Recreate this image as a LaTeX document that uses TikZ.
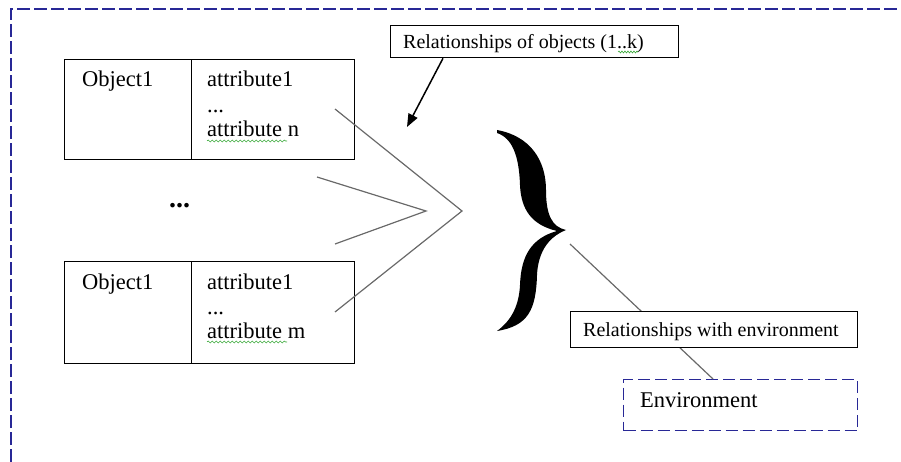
\documentclass[tikz,border=0pt]{standalone}
\usepackage{fontspec}
\setmainfont{Liberation Serif}
\usetikzlibrary{arrows.meta,decorations.pathmorphing,calc}

\definecolor{framecol}{RGB}{40,40,150}
\definecolor{linkcol}{RGB}{105,105,105}
\definecolor{spellcol}{RGB}{60,170,60}

\tikzset{
  box/.style={draw=black, line width=1.3pt, inner sep=0pt, anchor=north west},
  labelbox/.style={box, fill=white},
  envframe/.style={draw=framecol, line width=1.3pt, dash pattern=on 12pt off 5pt, inner sep=0pt, anchor=north west},
  outerframe/.style={draw=framecol, line width=1.3pt, dash pattern=on 13pt off 4pt},
  bigtxt/.style={anchor=base west, inner sep=0pt, font=\fontsize{22.5}{25}\selectfont},
  smalltxt/.style={anchor=base west, inner sep=0pt, font=\fontsize{20}{24}\selectfont},
  link/.style={draw=linkcol, line width=1.2pt},
  pointer/.style={draw=black, line width=1.5pt, -{Triangle[length=13pt,width=10pt]}},
  squiggle/.style={draw=spellcol, line width=0.6pt, decorate,
                   decoration={snake, amplitude=1pt, segment length=4pt}}
}

\begin{document}
\begin{tikzpicture}[x=1pt,y=-1pt]
\useasboundingbox (0,0) rectangle (901,462);

% outer system boundary
\draw[outerframe] (11,462) -- (11,9) -- (901,9);

% first object
\node[box, minimum width=127pt, minimum height=100pt] (objAname) at (64,59) {};
\node[box, minimum width=163pt, minimum height=100pt] (objAattr) at (191,59) {};
\node[bigtxt] (objAlbl) at (82,87) {Object1};
\node[bigtxt] (objAa1) at (207,87) {attribute1};
\node[bigtxt] (objAdots) at (207,113) {...};
\node[bigtxt] (objAan) at (207,137) {attribute n};
\draw[squiggle] (objAan.base west) ++(0,4) -- ++(80,0);

% elided objects
\node[anchor=base west, inner sep=0pt, font=\bfseries\fontsize{28}{28}\selectfont] (more) at (169,208) {...};

% last object
\node[box, minimum width=127pt, minimum height=102pt] (objBname) at (64,261) {};
\node[box, minimum width=163pt, minimum height=102pt] (objBattr) at (191,261) {};
\node[bigtxt] (objBlbl) at (82,289) {Object1};
\node[bigtxt] (objBa1) at (207,289) {attribute1};
\node[bigtxt] (objBdots) at (207,314) {...};
\node[bigtxt] (objBam) at (207,338) {attribute m};
\draw[squiggle] (objBam.base west) ++(0,4) -- ++(80,0);

% converging strokes
\coordinate (outA) at (335,109);
\coordinate (outTip) at (462,211);
\coordinate (outB) at (335,312);
\coordinate (inA) at (317,177);
\coordinate (inTip) at (426,211);
\coordinate (inB) at (335,244);
\draw[link] (outA) -- (outTip) -- (outB);
\draw[link] (inA) -- (inTip) -- (inB);

% label for the relationships between objects
\node[labelbox, minimum width=288pt, minimum height=32pt] (relObj) at (390,25) {};
\node[smalltxt] (relObjTxt) at (403,49) {Relationships of objects (1..k)};
\draw[squiggle, segment length=3pt] (618,52) -- (638,52);
\coordinate (relTip) at (407,127);
\draw[pointer] ($(relObj.south west)+(53,0)$) -- (relTip);

% curly brace
\fill[black] (497,130)
  .. controls (530,136) and (546,160) .. (546,190)
  .. controls (546,215) and (552,227) .. (566,230)
  .. controls (546,238) and (538,255) .. (537,275)
  .. controls (536,310) and (528,326) .. (497,331)
  .. controls (512,320) and (519,305) .. (520,285)
  .. controls (521,255) and (532,238) .. (557,231)
  .. controls (532,225) and (521,210) .. (520,185)
  .. controls (519,155) and (512,138) .. (497,133) -- cycle;
\coordinate (braceFoot) at (570,244);

% environment
\node[envframe, minimum width=234pt, minimum height=51pt] (envBox) at (623,379) {};
\node[bigtxt] (envTxt) at (640,407) {Environment};
\draw[link] (braceFoot) -- ($(envBox.north west)+(90,0)$);
\node[labelbox, minimum width=287pt, minimum height=36pt] (relEnv) at (570,311) {};
\node[smalltxt] (relEnvTxt) at (583,336) {Relationships with environment};
\end{tikzpicture}
\end{document}
